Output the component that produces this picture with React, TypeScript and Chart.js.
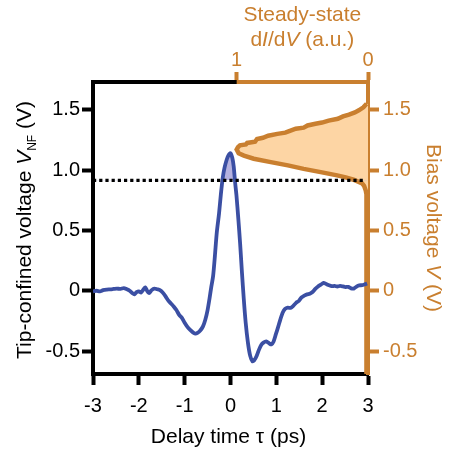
import React, { useEffect, useRef } from "react";
import { Chart, registerables } from "chart.js";

Chart.register(...registerables);

// Tip-confined transient voltage versus pump–probe delay
const delayPs = [
  -3.0, -2.92, -2.85, -2.78, -2.7, -2.62, -2.55, -2.48, -2.4, -2.33, -2.26, -2.2, -2.14, -2.1, -2.05, -2.0,
  -1.95, -1.9, -1.86, -1.82, -1.78, -1.72, -1.66, -1.6, -1.54, -1.48, -1.42, -1.36, -1.3, -1.24, -1.18,
  -1.12, -1.06, -1.0, -0.94, -0.88, -0.82, -0.77, -0.72, -0.66, -0.6, -0.55, -0.5, -0.46, -0.42, -0.38,
  -0.34, -0.3, -0.25, -0.21, -0.17, -0.13, -0.08, -0.04, 0.0, 0.04, 0.07, 0.1, 0.13, 0.17, 0.21, 0.25,
  0.29, 0.33, 0.38, 0.43, 0.48, 0.52, 0.57, 0.62, 0.67, 0.72, 0.78, 0.84, 0.89, 0.94, 0.99, 1.04, 1.09,
  1.14, 1.19, 1.25, 1.31, 1.37, 1.43, 1.49, 1.55, 1.61, 1.67, 1.73, 1.79, 1.85, 1.91, 1.97, 2.03, 2.09,
  2.15, 2.21, 2.27, 2.33, 2.39, 2.45, 2.51, 2.57, 2.63, 2.69, 2.75, 2.81, 2.87, 2.93, 2.98,
];
const tipVoltage = [
  -0.005, 0.0, -0.005, 0.005, 0.01, 0.012, 0.015, 0.018, 0.015, 0.022, 0.012, 0.0, -0.02, -0.03, -0.012, -0.005,
  -0.015, 0.01, 0.028, 0.0, -0.02, 0.005, 0.018, 0.012, 0.005, -0.015, -0.045, -0.08, -0.105, -0.13, -0.16,
  -0.2, -0.225, -0.265, -0.3, -0.325, -0.345, -0.355, -0.35, -0.33, -0.295, -0.24, -0.16, -0.07, 0.03, 0.12,
  0.29, 0.48, 0.64, 0.8, 0.935, 1.02, 1.09, 1.125, 1.14, 1.1, 1.03, 0.9, 0.79, 0.6, 0.39, 0.15,
  -0.07, -0.26, -0.43, -0.54, -0.585, -0.575, -0.54, -0.49, -0.45, -0.43, -0.42, -0.435, -0.445, -0.42, -0.36, -0.3, -0.235,
  -0.18, -0.15, -0.14, -0.142, -0.125, -0.1, -0.085, -0.055, -0.04, -0.03, -0.024, -0.01, 0.015, 0.035, 0.05, 0.065, 0.055,
  0.045, 0.038, 0.04, 0.035, 0.04, 0.036, 0.03, 0.032, 0.02, 0.018, 0.035, 0.045, 0.046, 0.053, 0.06,
];

// Steady-state dI/dV spectrum versus bias voltage
const biasVoltage = [
  -0.69, -0.4, -0.1, 0.2, 0.5, 0.7, 0.8, 0.83, 0.87, 0.89, 0.92, 0.94, 0.956, 0.983, 1.01, 1.039, 1.066,
  1.094, 1.12, 1.14, 1.17, 1.19, 1.205, 1.212, 1.225, 1.235, 1.258, 1.268, 1.285, 1.3, 1.31, 1.322, 1.343,
  1.352, 1.37, 1.384, 1.394, 1.41, 1.425, 1.445, 1.46, 1.478, 1.495, 1.52, 1.55,
];
const didv = [
  0.01, 0.012, 0.01, 0.012, 0.01, 0.012, 0.014, 0.017, 0.03, 0.045, 0.11, 0.17, 0.235, 0.36, 0.49, 0.61, 0.74,
  0.87, 0.945, 0.985, 1.0, 0.99, 0.975, 0.93, 0.92, 0.86, 0.845, 0.8, 0.76, 0.69, 0.63, 0.6, 0.55,
  0.49, 0.46, 0.4, 0.35, 0.3, 0.23, 0.19, 0.145, 0.1, 0.07, 0.035, 0.01,
];

// Threshold voltage (dotted line)
const thresholdVoltage = 0.915;
const thresholdDelay = [-3.0, 2.95];

// Axes
const delayRange = [-3, 3];
const delayTicks = [-3, -2, -1, 0, 1, 2, 3];
const voltageRange = [-0.69, 1.73];
const voltageTicks = [-0.5, 0, 0.5, 1.0, 1.5];
const voltageTickLabels = ["-0.5", "0", "0.5", "1.0", "1.5"];
const didvRange = [0, 2.094];
const didvTicks = [0, 1];

const BLUE = "#3b4fa3";
const BLUE_FILL = "#b6b2df";
const ORANGE = "#c97f2f";
const ORANGE_FILL = "#fdd5a4";
const BLACK = "#000000";
const FONT = '"Liberation Sans", Arial, Helvetica, sans-serif';
const AXIS_W = 4;

type Run = { t: string; italic?: boolean; sub?: boolean };

function drawRuns(ctx: CanvasRenderingContext2D, runs: Run[], size: number, color: string) {
  const fontFor = (r: Run) => `${r.italic ? "italic " : ""}${r.sub ? Math.round(size * 0.55) : size}px ${FONT}`;
  let total = 0;
  const widths = runs.map((r) => {
    ctx.font = fontFor(r);
    const w = ctx.measureText(r.t).width;
    total += w;
    return w;
  });
  let x = -total / 2;
  ctx.fillStyle = color;
  ctx.textAlign = "left";
  ctx.textBaseline = "alphabetic";
  runs.forEach((r, i) => {
    ctx.font = fontFor(r);
    ctx.fillText(r.t, x, r.sub ? size * 0.22 : 0);
    x += widths[i];
  });
}

const decorations = {
  id: "decorations",
  afterDraw(chart: any) {
    const { ctx, chartArea } = chart;
    const x2 = chart.scales.x2;
    const xOne = x2.getPixelForValue(1);
    const cy = (chartArea.top + chartArea.bottom) / 2;
    const cx = (chartArea.left + chartArea.right) / 2;
    ctx.save();

    // black part of the top frame, left of the dI/dV axis
    ctx.strokeStyle = BLACK;
    ctx.lineWidth = AXIS_W;
    ctx.beginPath();
    ctx.moveTo(chartArea.left - AXIS_W / 2, chartArea.top);
    ctx.lineTo(xOne, chartArea.top);
    ctx.stroke();

    const size = 21;

    // bottom title
    ctx.save();
    ctx.translate(cx - 2, 443);
    drawRuns(ctx, [{ t: "Delay time \u03c4 (ps)" }], size, BLACK);
    ctx.restore();

    // left title
    ctx.save();
    ctx.translate(31, cy + 2);
    ctx.rotate(-Math.PI / 2);
    drawRuns(
      ctx,
      [{ t: "Tip-confined voltage " }, { t: "V", italic: true }, { t: "NF", sub: true }, { t: " (V)" }],
      size,
      BLACK
    );
    ctx.restore();

    // right title
    ctx.save();
    ctx.translate(427, cy);
    ctx.rotate(Math.PI / 2);
    drawRuns(ctx, [{ t: "Bias voltage " }, { t: "V", italic: true }, { t: " (V)" }], size, ORANGE);
    ctx.restore();

    // top title
    const tx = (xOne + chartArea.right) / 2;
    ctx.save();
    ctx.translate(tx, 21);
    drawRuns(ctx, [{ t: "Steady-state" }], size, ORANGE);
    ctx.restore();
    ctx.save();
    ctx.translate(tx, 46);
    drawRuns(
      ctx,
      [{ t: "d" }, { t: "I", italic: true }, { t: "/d" }, { t: "V", italic: true }, { t: " (a.u.)" }],
      size,
      ORANGE
    );
    ctx.restore();

    ctx.restore();
  },
};

const tickFont = { family: FONT, size: 20 };
const voltLabel = (v: number) => {
  const i = voltageTicks.findIndex((t) => Math.abs(t - v) < 1e-9);
  return i >= 0 ? voltageTickLabels[i] : "";
};

export default function App() {
  const canvasRef = useRef<HTMLCanvasElement | null>(null);

  useEffect(() => {
    if (!canvasRef.current) return;
    const chart = new Chart(canvasRef.current, {
      type: "line",
      data: {
        datasets: [
          {
            label: "threshold",
            data: thresholdDelay.map((x) => ({ x, y: thresholdVoltage })),
            xAxisID: "x",
            yAxisID: "y",
            borderColor: BLACK,
            borderWidth: 3.2,
            borderDash: [3.2, 3],
            pointRadius: 0,
            fill: false,
            order: 0,
          },
          {
            label: "V_NF",
            data: delayPs.map((x, i) => ({ x, y: tipVoltage[i] })),
            xAxisID: "x",
            yAxisID: "y",
            borderColor: BLUE,
            borderWidth: 3.8,
            backgroundColor: BLUE_FILL,
            fill: { target: { value: thresholdVoltage }, above: BLUE_FILL, below: "rgba(0,0,0,0)" },
            tension: 0.25,
            pointRadius: 0,
            order: 1,
          },
          {
            label: "dI/dV",
            indexAxis: "y",
            data: biasVoltage.map((y, i) => ({ x: didv[i], y })),
            xAxisID: "x2",
            yAxisID: "y",
            borderColor: ORANGE,
            borderWidth: 4.5,
            backgroundColor: ORANGE_FILL,
            fill: { target: { value: 0 } },
            tension: 0,
            pointRadius: 0,
            order: 2,
          } as any,
        ],
      },
      options: {
        animation: false,
        responsive: false,
        devicePixelRatio: 1,
        layout: { padding: 0 },
        plugins: { legend: { display: false }, tooltip: { enabled: false } },
        scales: {
          x: {
            type: "linear",
            position: "bottom",
            min: delayRange[0],
            max: delayRange[1],
            afterBuildTicks: (s: any) => {
              s.ticks = delayTicks.map((value) => ({ value }));
            },
            afterFit: (s: any) => {
              s.height = 77;
            },
            ticks: { font: tickFont, color: BLACK, padding: 9, maxRotation: 0, autoSkip: false },
            grid: { drawOnChartArea: false, drawTicks: true, tickLength: 11, tickWidth: AXIS_W, tickColor: BLACK },
            border: { display: true, color: BLACK, width: AXIS_W },
          },
          x2: {
            type: "linear",
            position: "top",
            reverse: true,
            min: didvRange[0],
            max: didvRange[1],
            afterBuildTicks: (s: any) => {
              s.ticks = didvTicks.map((value) => ({ value }));
            },
            afterFit: (s: any) => {
              s.height = 82;
            },
            ticks: { font: tickFont, color: ORANGE, padding: 0, maxRotation: 0, autoSkip: false },
            grid: { drawOnChartArea: false, drawTicks: true, tickLength: 10, tickWidth: AXIS_W, tickColor: ORANGE },
            border: { display: true, color: ORANGE, width: AXIS_W },
          },
          y: {
            type: "linear",
            position: "left",
            min: voltageRange[0],
            max: voltageRange[1],
            afterBuildTicks: (s: any) => {
              s.ticks = voltageTicks.map((value) => ({ value }));
            },
            afterFit: (s: any) => {
              s.width = 93;
            },
            ticks: { font: tickFont, color: BLACK, padding: 2, autoSkip: false, callback: (v: any) => voltLabel(Number(v)) },
            grid: { drawOnChartArea: false, drawTicks: true, tickLength: 11, tickWidth: AXIS_W, tickColor: BLACK },
            border: { display: true, color: BLACK, width: AXIS_W },
          },
          y2: {
            type: "linear",
            position: "right",
            min: voltageRange[0],
            max: voltageRange[1],
            afterBuildTicks: (s: any) => {
              s.ticks = voltageTicks.map((value) => ({ value }));
            },
            afterFit: (s: any) => {
              s.width = 86;
            },
            ticks: { font: tickFont, color: ORANGE, padding: 4, autoSkip: false, callback: (v: any) => voltLabel(Number(v)) },
            grid: { drawOnChartArea: false, drawTicks: true, tickLength: 11, tickWidth: AXIS_W, tickColor: ORANGE },
            border: { display: true, color: ORANGE, width: AXIS_W },
          },
        },
      },
      plugins: [decorations],
    } as any);
    return () => chart.destroy();
  }, []);

  return (
    <div style={{ position: "fixed", left: 0, top: 0, width: 454, height: 451, background: "#ffffff" }}>
      <canvas ref={canvasRef} width={454} height={451} style={{ display: "block" }} />
    </div>
  );
}
